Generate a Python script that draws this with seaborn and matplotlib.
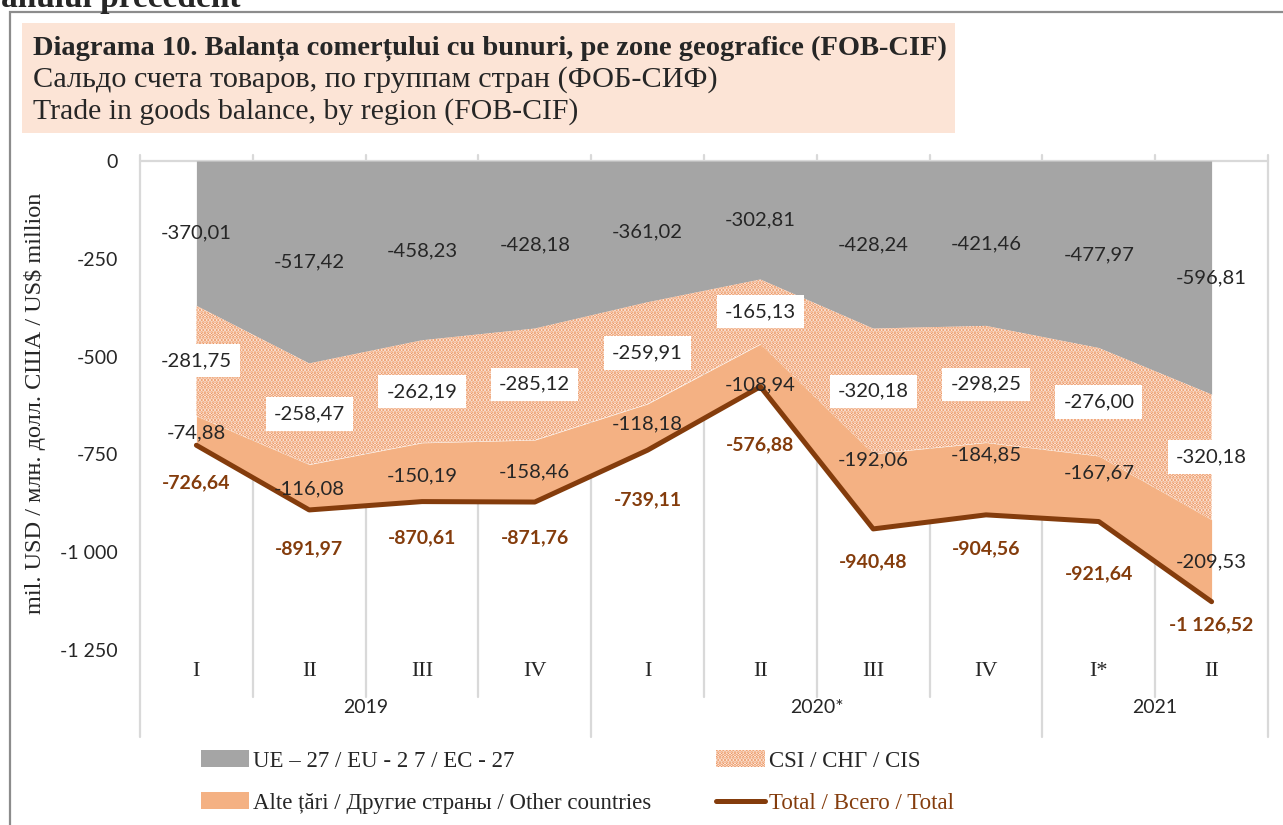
import matplotlib
matplotlib.use("Agg")
import matplotlib.pyplot as plt
import matplotlib.patches as mpatches
import matplotlib.lines as mlines
import numpy as np
import pandas as pd
import seaborn as sns

# Date (mil. USD)
quarters = ["I", "II", "III", "IV", "I", "II", "III", "IV", "I*", "II"]
years = ["2019", "2020*", "2021"]
year_span = [(0, 3), (4, 7), (8, 9)]
eu = [-370.01, -517.42, -458.23, -428.18, -361.02, -302.81, -428.24, -421.46, -477.97, -596.81]
cis = [-281.75, -258.47, -262.19, -285.12, -259.91, -165.13, -320.18, -298.25, -276.00, -320.18]
other = [-74.88, -116.08, -150.19, -158.46, -118.18, -108.94, -192.06, -184.85, -167.67, -209.53]
total = [-726.64, -891.97, -870.61, -871.76, -739.11, -576.88, -940.48, -904.56, -921.64, -1126.52]

# pozitiile etichetelor (valori pe axa y)
other_lbl_y = [-695, -838, -805, -795, -672, -572, -764, -751, -798, -1025]
total_lbl_y = [-823, -992, -964, -964, -867, -726, -1025, -992, -1056, -1186]

C_EU = "#A5A5A5"
C_CIS = "#EC8E55"
C_OTH = "#F4B183"
C_TOT = "#843C0C"
C_GRID = "#D9D9D9"

SERIF = "Liberation Serif"
SANS = "Lato"

sns.set_style("white")
plt.rcParams["hatch.linewidth"] = 1.9

W, H = 1283, 825


def fx(x):
    return x / W


def fy(y):
    return 1 - y / H


def fmt(v):
    s = f"{abs(v):,.2f}".replace(",", " ").replace(".", ",")
    return "-" + s if v < 0 else s


df = pd.DataFrame({"q": quarters, "eu": eu, "cis": cis, "other": other, "total": total})
df["x"] = np.arange(len(df))
df["lvl1"] = df["eu"]
df["lvl2"] = df["eu"] + df["cis"]
df["lvl3"] = df["lvl2"] + df["other"]

fig = plt.figure(figsize=(W / 100, H / 100), dpi=100)
fig.patch.set_facecolor("white")

# chenar exterior si caseta titlului
fig.patches.append(mpatches.Rectangle((fx(10), fy(830)), fx(1290), 818 / H, transform=fig.transFigure,
                                      facecolor="none", edgecolor="#8C8C8C", linewidth=1.6))
fig.patches.append(mpatches.Rectangle((fx(22), fy(133)), fx(933), 110 / H, transform=fig.transFigure,
                                      facecolor="#FCE4D6", edgecolor="none"))
fig.text(fx(1), fy(7), "anului precedent", fontsize=24, fontweight="bold", family=SERIF, va="baseline")
fig.text(fx(33), fy(48), "Diagrama 10. Balanța comerțului cu bunuri, pe zone geografice (FOB-CIF)",
         fontsize=20.5, fontweight="bold", family=SERIF, va="center")
fig.text(fx(33), fy(80), "Сальдо счета товаров, по группам стран (ФОБ-СИФ)",
         fontsize=21.8, family=SERIF, va="center")
fig.text(fx(33), fy(112), "Trade in goods balance, by region (FOB-CIF)",
         fontsize=21.4, family=SERIF, va="center")

ax = fig.add_axes([fx(140), fy(650), 1128 / W, 489 / H])

ax.fill_between(df["x"], 0, df["lvl1"], color=C_EU, linewidth=0, zorder=2)
ax.fill_between(df["x"], df["lvl1"], df["lvl2"], facecolor="white", edgecolor=C_CIS,
                hatch=".....", linewidth=0, zorder=2)
ax.fill_between(df["x"], df["lvl2"], df["lvl3"], color=C_OTH, linewidth=0, zorder=2)
sns.lineplot(data=df, x="x", y="total", color=C_TOT, linewidth=3.6, ax=ax, zorder=3,
             solid_capstyle="round", legend=False)

ax.set_xlim(-0.5, 9.5)
ax.set_ylim(-1250, 0)
ax.set_yticks([0, -250, -500, -750, -1000, -1250])
ax.set_yticklabels(["0", "-250", "-500", "-750", "-1 000", "-1 250"], family=SANS, fontsize=14)
ax.set_xticks(df["x"])
ax.set_xticklabels(quarters, family=SERIF, fontsize=16)
ax.tick_params(axis="x", length=0, pad=9)
ax.tick_params(axis="y", length=0, pad=16)
for s in ax.spines.values():
    s.set_visible(False)
ax.set_xlabel("")
ax.set_ylabel("")

# linii de grila verticale si axa la 0
trans = ax.get_xaxis_transform()
for k in range(11):
    xb = -0.5 + k
    bottom = -0.178 if k in (0, 4, 8, 10) else -0.096
    ax.plot([xb, xb], [1.012, bottom], transform=trans, color=C_GRID, linewidth=1.6,
            clip_on=False, zorder=1)
ax.plot([-0.5, 9.5], [0, 0], color=C_GRID, linewidth=1.6, zorder=1, clip_on=False)

for name, (a, b) in zip(years, year_span):
    ax.text((a + b) / 2, -0.1166, name, transform=trans, ha="center", va="center",
            family=SANS, fontsize=14)

# etichete de date
for i in range(len(df)):
    ax.text(i, eu[i] / 2, fmt(eu[i]), ha="center", va="center", family=SANS, fontsize=14.6, zorder=5)
    ax.text(i, eu[i] + cis[i] / 2, fmt(cis[i]), ha="center", va="center", family=SANS,
            fontsize=14.6, zorder=5,
            bbox=dict(boxstyle="square,pad=0.4", facecolor="white", edgecolor="none"))
    ax.text(i, other_lbl_y[i], fmt(other[i]), ha="center", va="center", family=SANS,
            fontsize=14.6, zorder=5)
    ax.text(i, total_lbl_y[i], fmt(total[i]), ha="center", va="center", family=SANS,
            fontsize=14, fontweight="bold", color=C_TOT, zorder=5)

fig.text(fx(35), fy(403), "mil. USD / млн. долл. США / US$ million", rotation=90,
         family=SERIF, fontsize=17.5, ha="center", va="center")

# legenda
h_eu = mpatches.Patch(facecolor=C_EU, edgecolor="none", label="UE – 27 / EU - 2 7 / EC - 27")
h_cis = mpatches.Patch(facecolor="white", edgecolor=C_CIS, hatch=".....", linewidth=0,
                       label="CSI / СНГ / CIS")
h_oth = mpatches.Patch(facecolor=C_OTH, edgecolor="none", label="Alte țări / Другие страны / Other countries")
h_tot = mlines.Line2D([], [], color=C_TOT, linewidth=3.6, solid_capstyle="round",
                      label="Total / Всего / Total")
leg = fig.legend(handles=[h_eu, h_oth, h_cis, h_tot], ncol=2, loc="center left",
                 bbox_to_anchor=(fx(180), fy(782)), frameon=False,
                 prop={"family": SERIF, "size": 16.5}, handlelength=2.1, handleheight=0.75,
                 handletextpad=0.18, columnspacing=2.85, labelspacing=0.9)
leg.get_texts()[3].set_color(C_TOT)

fig.savefig("out.png", dpi=100, facecolor="white")
